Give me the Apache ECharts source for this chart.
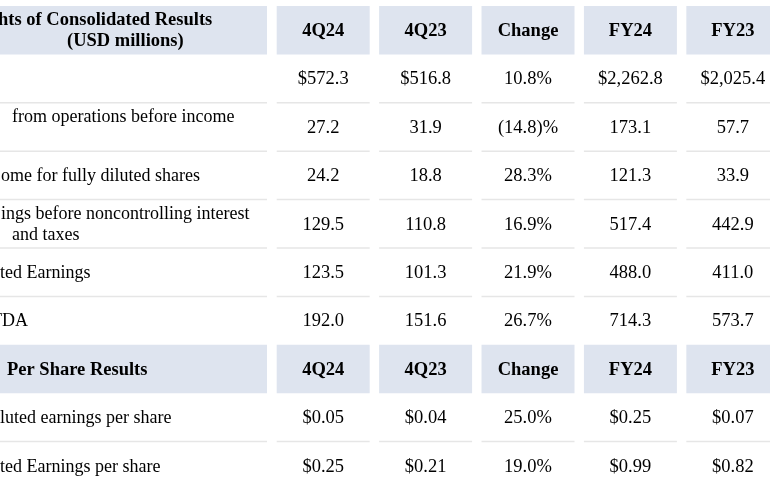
<!DOCTYPE html>
<html><head><meta charset="utf-8">
<script src="https://cdn.jsdelivr.net/npm/echarts@6/dist/echarts.min.js"></script>
<style>html,body{margin:0;padding:0;background:#fff}#c{width:770px;height:491px}</style>
</head><body><div id="c"></div>
<script>
// ---- data ----
const columns = ['4Q24', '4Q23', 'Change', 'FY24', 'FY23'];
const sectionTitles = [
  ['hts of Consolidated Results', '(USD millions)'],
  ['Per Share Results']
];
const rowLabels = [
  [''],
  ['from operations before income', ''],
  ['ome for fully diluted shares'],
  ['ings before noncontrolling interest', 'and taxes'],
  ['ted Earnings'],
  ['TDA'],
  ['luted earnings per share'],
  ['ted Earnings per share']
];
const q4_24 = [572.3, 27.2, 24.2, 129.5, 123.5, 192.0, 0.05, 0.25];
const q4_23 = [516.8, 31.9, 18.8, 110.8, 101.3, 151.6, 0.04, 0.21];
const changePct = [10.8, -14.8, 28.3, 16.9, 21.9, 26.7, 25.0, 19.0];
const fy24 = [2262.8, 173.1, 121.3, 517.4, 488.0, 714.3, 0.25, 0.99];
const fy23 = [2025.4, 57.7, 33.9, 442.9, 411.0, 573.7, 0.07, 0.82];
const dollarRows = [true, false, false, false, false, false, true, true];
const decimals = [1, 1, 1, 1, 1, 1, 2, 2];
// sections: header, then rows
const sections = [[0, 1, 2, 3, 4, 5], [6, 7]];

// ---- build table ----
const FONT = '"Liberation Serif", "Times New Roman", serif';
const FS_LABEL = 18;
const FS_CELL = 18.5;
const HEAD_BG = '#dee4ef';
const LINE = '#e6e6e6';

function fmtNum(v, d, dollar) {
  const s = Math.abs(v).toLocaleString('en-US', {minimumFractionDigits: d, maximumFractionDigits: d});
  return (dollar ? '$' : '') + s;
}
function fmtPct(v) {
  return v < 0 ? '(' + Math.abs(v).toFixed(1) + ')%' : v.toFixed(1) + '%';
}
const valueCols = [q4_24, q4_23, changePct, fy24, fy23];

const yCats = [];
const cells = [];
sections.forEach((rows, si) => {
  const hr = yCats.length;
  yCats.push('S' + si);
  cells.push({col: -1, row: hr, kind: 'head', lines: sectionTitles[si]});
  columns.forEach((c, ci) => cells.push({col: ci, row: hr, kind: 'head', lines: [c]}));
  rows.forEach((r, k) => {
    const yr = yCats.length;
    yCats.push('R' + r);
    const line = k < rows.length - 1;
    cells.push({col: -1, row: yr, kind: 'label', lines: rowLabels[r], line, r});
    valueCols.forEach((arr, ci) => {
      const txt = ci === 2 ? fmtPct(arr[r]) : fmtNum(arr[r], decimals[r], dollarRows[r]);
      cells.push({col: ci, row: yr, kind: 'data', lines: [txt], line});
    });
  });
});

// left offsets of visible label text (the label column is cropped on the left)
const labelX = {
  0: [-2, 67],
  'R1': [12, 12], 'R2': [1], 'R3': [1, 12], 'R4': [0], 'R5': [-9],
  7: [7],
  'R6': [0], 'R7': [0]
};

const chart = echarts.init(document.getElementById('c'), null, {renderer: 'canvas'});
chart.setOption({
  animation: false,
  grid: {left: 272, right: 0, top: 6, height: 484},
  // value axis over column indices; range chosen so the last column runs past the right edge
  xAxis: {type: 'value', min: -0.5, max: 4.363, show: false},
  yAxis: {type: 'category', data: yCats, inverse: true, show: false, boundaryGap: true},
  series: [{
    type: 'custom',
    silent: true,
    clip: false,
    data: cells.map(c => [Math.max(c.col, 0), c.row]),
    renderItem: function (params, api) {
      const cell = cells[params.dataIndex];
      const pt = api.coord([api.value(0), api.value(1)]);
      const band = api.size([1, 1]);
      const top = pt[1] - band[1] / 2, bottom = pt[1] + band[1] / 2;
      const cw = band[0] * 0.908;
      let x0, x1;
      if (cell.col < 0) {
        x1 = pt[0] - band[0] / 2 - 5;
        x0 = -20;
      } else {
        x0 = pt[0] - cw / 2;
        x1 = pt[0] + cw / 2;
      }
      const children = [];
      if (cell.kind === 'head') {
        children.push({type: 'rect', shape: {x: x0, y: top, width: x1 - x0, height: bottom - top},
          style: {fill: HEAD_BG}});
      } else if (cell.line) {
        children.push({type: 'line', shape: {x1: x0, y1: bottom, x2: x1, y2: bottom},
          style: {stroke: LINE, lineWidth: 1.5}});
      }
      const bold = cell.kind === 'head';
      const n = cell.lines.length;
      const lh = 21;
      cell.lines.forEach((t, i) => {
        const y = pt[1] + 1 + (i - (n - 1) / 2) * lh;
        let x, align, fs;
        if (cell.col < 0) {
          const key = cell.kind === 'head' ? cell.row : 'R' + cell.r;
          x = (labelX[key] || [0])[i] ?? 0;
          align = 'left';
          fs = bold ? FS_CELL : FS_LABEL;
        } else {
          x = pt[0];
          align = 'center';
          fs = FS_CELL;
        }
        children.push({type: 'text', style: {text: t, x, y, align, verticalAlign: 'middle',
          fontFamily: FONT, fontSize: fs, fontWeight: bold ? 'bold' : 'normal', fill: '#000'}});
      });
      return {type: 'group', children};
    }
  }]
});
</script></body></html>
